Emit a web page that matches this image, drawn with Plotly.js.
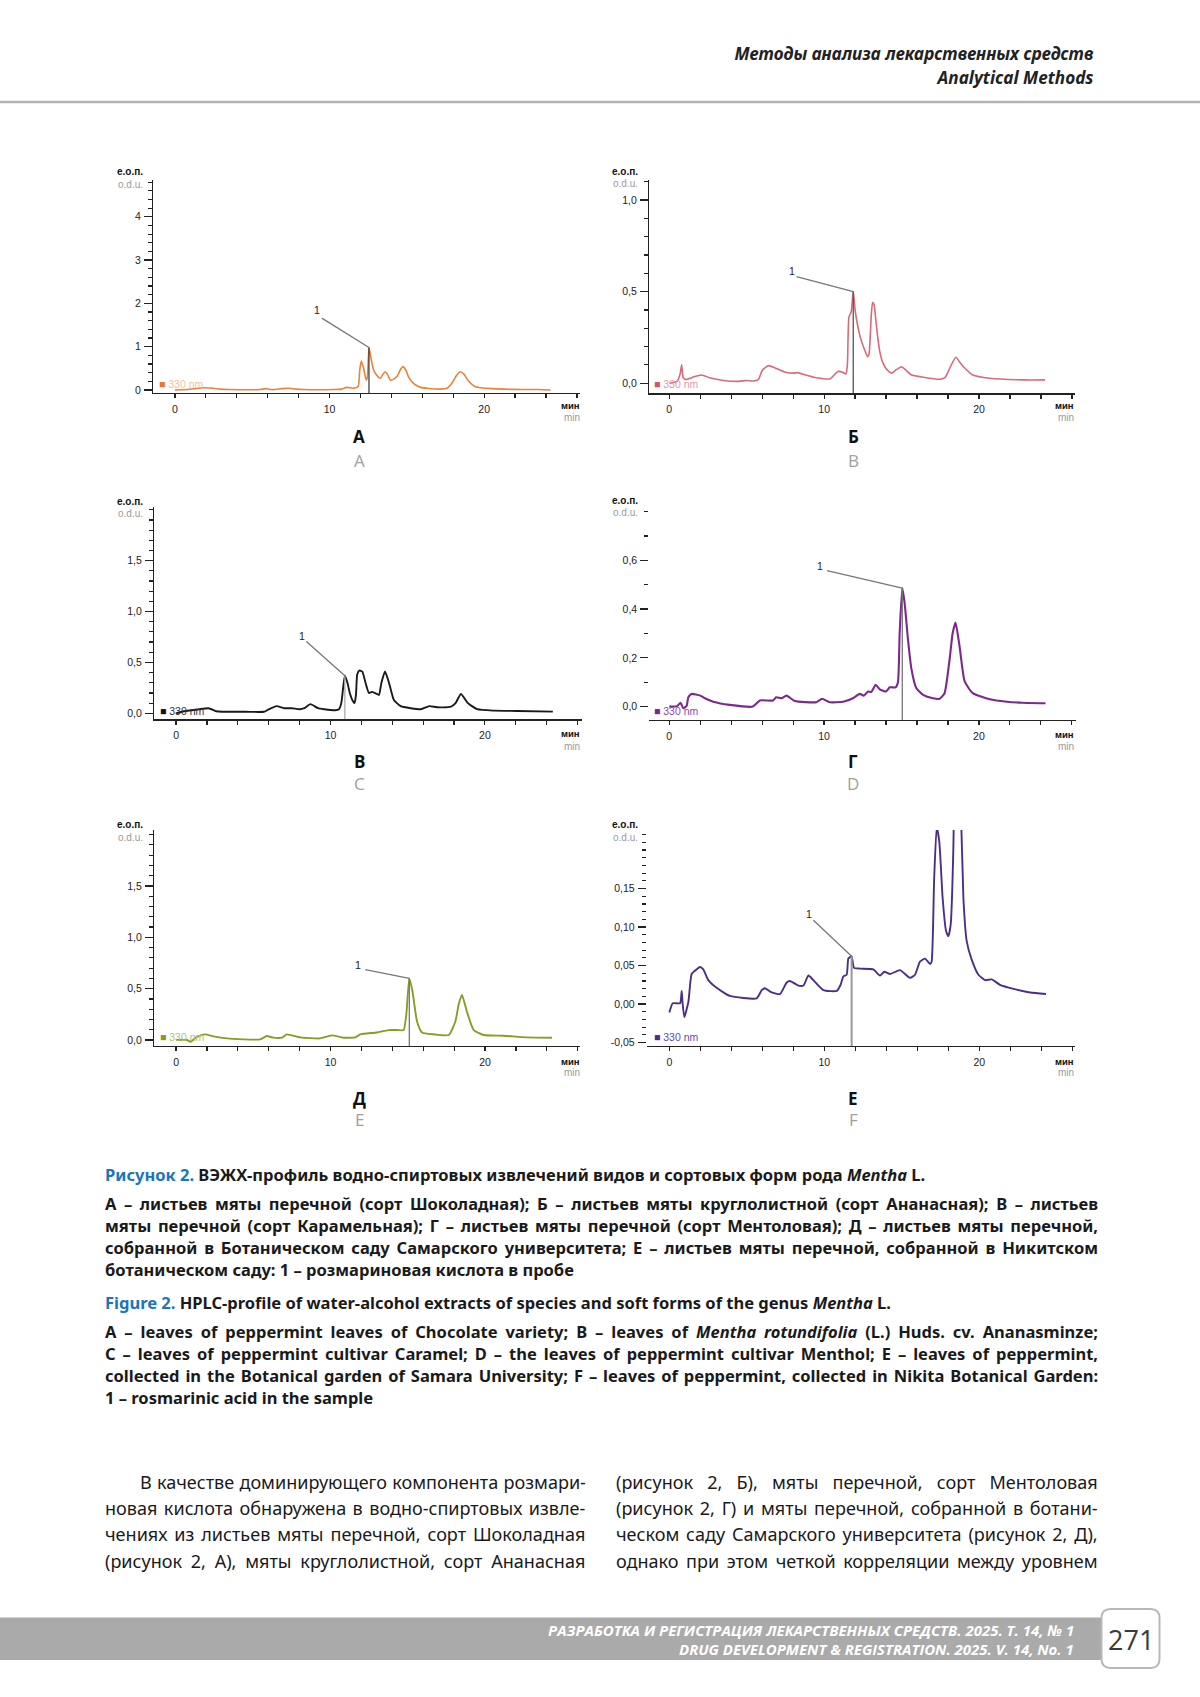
<!DOCTYPE html>
<html><head><meta charset="utf-8">
<script src="https://cdn.plot.ly/plotly-3.0.1.min.js"></script>
<style>html,body{margin:0;padding:0;background:#fff}#chart{width:1200px;height:1697px}</style>
</head><body><div id="chart"></div>
<script>
// ================= DATA =================
const xTickVals = [0, 10, 20];
const xTickText = ['0', '10', '20'];
const seriesName = '330 nm';
const panelLetterRu = ['А', 'Б', 'В', 'Г', 'Д', 'Е'];
const panelLetterEn = ['A', 'B', 'C', 'D', 'E', 'F'];

// A – Chocolate variety (orange)
const tA = [0, 0.8, 1.3, 1.8, 2.5, 2.9, 3.5, 5.5, 5.9, 6.2, 6.5, 6.9, 7.4, 7.8, 8.3, 10.3, 10.8, 11.1, 11.5, 11.85, 11.95, 12.05, 12.2, 12.37, 12.45, 12.55, 12.7, 12.85, 13.05, 13.28, 13.45, 13.6, 13.75, 13.93, 14.15, 14.36, 14.6, 14.75, 14.95, 15.1, 15.3, 15.55, 15.9, 16.3, 17.2, 17.6, 17.9, 18.2, 18.45, 18.7, 19.0, 19.4, 19.8, 20.5, 21.2, 22.5, 23.5, 24.3];
const yA = [0.0, 0.01, 0.03, 0.05, 0.04, 0.02, 0.01, 0.01, 0.03, 0.01, 0.01, 0.03, 0.04, 0.02, 0.01, 0.01, 0.02, 0.06, 0.04, 0.08, 0.45, 0.67, 0.5, 0.23, 0.3, 0.98, 0.7, 0.46, 0.34, 0.27, 0.36, 0.42, 0.36, 0.23, 0.25, 0.31, 0.48, 0.54, 0.45, 0.31, 0.2, 0.12, 0.06, 0.04, 0.02, 0.04, 0.15, 0.33, 0.42, 0.36, 0.2, 0.08, 0.05, 0.03, 0.02, 0.01, 0.01, 0.0];

// Б – Ananasnaya (pink-red)
const tB = [0, 0.5, 0.7, 0.8, 0.9, 1.1, 1.6, 2.1, 2.6, 3.5, 4.5, 5.0, 5.4, 5.75, 6.0, 6.4, 6.8, 7.5, 8.0, 8.3, 8.8, 9.5, 10.4, 10.7, 10.9, 11.2, 11.4, 11.5, 11.6, 11.75, 11.88, 12.0, 12.1, 12.25, 12.42, 12.6, 12.8, 12.9, 12.98, 13.05, 13.13, 13.22, 13.32, 13.45, 13.6, 13.8, 14.1, 14.36, 14.6, 15.0, 15.3, 15.65, 16.4, 17.5, 17.8, 18.1, 18.5, 18.8, 19.0, 19.6, 20.7, 22.9, 24.26];
const yB = [0.0, 0.01, 0.05, 0.1, 0.03, 0.02, 0.035, 0.045, 0.03, 0.015, 0.01, 0.015, 0.012, 0.02, 0.07, 0.096, 0.085, 0.06, 0.055, 0.058, 0.045, 0.03, 0.025, 0.05, 0.064, 0.06, 0.05, 0.1, 0.36, 0.39, 0.5, 0.4, 0.345, 0.28, 0.227, 0.185, 0.145, 0.16, 0.26, 0.38, 0.44, 0.43, 0.36, 0.26, 0.17, 0.11, 0.07, 0.055, 0.07, 0.09, 0.07, 0.045, 0.033, 0.022, 0.03, 0.08, 0.142, 0.11, 0.09, 0.045, 0.027, 0.018, 0.018];

// В – Karamelnaya (black)
const tC = [0, 0.5, 1.0, 1.5, 2.1, 2.6, 3.0, 4.5, 5.7, 5.9, 6.5, 7.0, 7.5, 8.0, 8.3, 8.7, 9.2, 9.6, 10.3, 10.55, 10.7, 10.93, 11.1, 11.25, 11.45, 11.56, 11.65, 11.73, 11.86, 12.06, 12.27, 12.49, 12.7, 13.0, 13.14, 13.3, 13.53, 13.79, 14.11, 14.55, 15.2, 15.85, 16.4, 16.9, 17.8, 18.1, 18.45, 18.9, 19.5, 20.6, 22.1, 24.4];
const yC = [0.0, 0.02, 0.03, 0.04, 0.05, 0.02, 0.015, 0.015, 0.015, 0.03, 0.07, 0.05, 0.05, 0.04, 0.05, 0.09, 0.05, 0.04, 0.03, 0.04, 0.1, 0.37, 0.3, 0.2, 0.12, 0.1, 0.18, 0.38, 0.42, 0.41, 0.3, 0.2, 0.21, 0.19, 0.18, 0.3, 0.41, 0.3, 0.13, 0.07, 0.05, 0.04, 0.07, 0.06, 0.065, 0.1, 0.19, 0.1, 0.04, 0.026, 0.023, 0.016];

// Г – Mentolovaya (purple)
const tD = [0, 0.5, 0.73, 0.9, 1.12, 1.23, 1.44, 2.0, 2.3, 2.84, 3.9, 5.4, 5.85, 6.7, 6.9, 7.25, 7.57, 8.1, 9.5, 9.87, 10.37, 11.23, 11.87, 12.3, 12.56, 12.84, 13.05, 13.33, 13.6, 14.0, 14.24, 14.62, 14.77, 14.88, 15.05, 15.2, 15.42, 15.63, 15.96, 16.39, 17.03, 17.46, 17.78, 18.1, 18.3, 18.49, 18.75, 19.08, 19.6, 20.7, 21.8, 22.8, 24.3];
const yD = [0.0, 0.002, 0.016, -0.007, 0.003, 0.038, 0.052, 0.045, 0.034, 0.02, 0.007, 0.0, 0.025, 0.025, 0.038, 0.034, 0.045, 0.023, 0.018, 0.032, 0.018, 0.02, 0.034, 0.052, 0.045, 0.062, 0.06, 0.089, 0.071, 0.062, 0.079, 0.079, 0.1, 0.3, 0.486, 0.425, 0.274, 0.158, 0.075, 0.048, 0.034, 0.032, 0.055, 0.19, 0.3, 0.345, 0.247, 0.103, 0.055, 0.03, 0.02, 0.016, 0.014];

// Д – Samara botanical garden (olive)
const tE = [0, 0.7, 0.95, 1.34, 1.88, 2.42, 3.28, 5.44, 5.87, 6.3, 6.85, 7.17, 8.03, 9.33, 10.09, 10.84, 11.6, 11.92, 13.0, 13.76, 14.4, 14.73, 14.9, 15.1, 15.31, 15.6, 15.92, 16.67, 17.65, 18.08, 18.3, 18.51, 18.83, 19.27, 19.91, 21.2, 22.7, 24.34];
const yE = [0.0, 0.0, -0.016, 0.03, 0.055, 0.036, 0.016, 0.006, 0.039, 0.023, 0.023, 0.055, 0.026, 0.016, 0.045, 0.023, 0.026, 0.055, 0.074, 0.097, 0.097, 0.097, 0.24, 0.6, 0.47, 0.18, 0.074, 0.055, 0.049, 0.18, 0.35, 0.44, 0.275, 0.097, 0.049, 0.042, 0.026, 0.023];

// Е – Nikita botanical garden (indigo)
const tF = [0, 0.22, 0.69, 0.8, 0.86, 0.97, 1.23, 1.44, 1.76, 1.98, 2.19, 2.52, 3.05, 3.91, 5.63, 5.96, 6.17, 6.6, 7.14, 7.57, 7.78, 8.32, 8.65, 8.97, 9.29, 9.94, 10.8, 11.05, 11.23, 11.44, 11.55, 11.76, 11.91, 12.3, 13.16, 13.59, 13.87, 14.24, 14.88, 15.53, 15.85, 16.17, 16.5, 16.82, 16.92, 17.08, 17.25, 17.42, 17.63, 17.85, 18.0, 18.15, 18.32, 18.5, 18.75, 18.97, 19.18, 19.5, 19.94, 20.37, 20.8, 21.33, 22.2, 23.27, 24.3];
const yF = [-0.011, 0.001, 0.001, 0.017, 0.0, -0.017, 0.003, 0.039, 0.045, 0.048, 0.045, 0.031, 0.021, 0.0105, 0.0074, 0.018, 0.0205, 0.015, 0.013, 0.028, 0.03, 0.024, 0.024, 0.037, 0.031, 0.018, 0.017, 0.025, 0.036, 0.038, 0.059, 0.062, 0.047, 0.046, 0.045, 0.037, 0.042, 0.039, 0.044, 0.034, 0.038, 0.055, 0.059, 0.052, 0.055, 0.16, 0.23, 0.21, 0.138, 0.095, 0.088, 0.103, 0.2, 0.45, 0.3, 0.138, 0.082, 0.058, 0.038, 0.031, 0.032, 0.025, 0.0197, 0.015, 0.013];

// y tick labels
const yTickValsA = [0, 1, 2, 3, 4];
const yTickTextA = ['0', '1', '2', '3', '4'];
const yTickValsB = [0, 0.5, 1.0];
const yTickTextB = ['0,0', '0,5', '1,0'];
const yTickValsC = [0, 0.5, 1.0, 1.5, 2.0];
const yTickTextC = ['0,0', '0,5', '1,0', '1,5', ''];
const yTickValsD = [0, 0.2, 0.4, 0.6, 0.8];
const yTickTextD = ['0,0', '0,2', '0,4', '0,6', ''];
const yTickValsE = [0, 0.5, 1.0, 1.5, 2.0];
const yTickTextE = ['0,0', '0,5', '1,0', '1,5', ''];
const yTickValsF = [-0.05, 0, 0.05, 0.10, 0.15, 0.20];
const yTickTextF = ['-0,05', '0,00', '0,05', '0,10', '0,15', ''];

// peak "1" (rosmarinic acid): retention time and label position
const peakTimes = [12.55, 11.88, 10.93, 15.05, 15.1, 11.76];
const peakLabelT = [9.18, 7.9, 8.16, 9.76, 11.8, 9.01];
const peakLabelY = [1.85, 0.61, 0.76, 0.575, 0.735, 0.1166];
const leaderT = [9.5, 8.22, 8.44, 10.19, 12.25, 9.29];
const leaderY = [1.66, 0.582, 0.705, 0.558, 0.686, 0.1087];

// ================= LAYOUT CONSTANTS =================
const W = 1200, H = 1697;
const series = [[tA, yA], [tB, yB], [tC, yC], [tD, yD], [tE, yE], [tF, yF]];
const yTicks = [[yTickValsA, yTickTextA], [yTickValsB, yTickTextB], [yTickValsC, yTickTextC], [yTickValsD, yTickTextD], [yTickValsE, yTickTextE], [yTickValsF, yTickTextF]];
const P = [
  {l:153.3, r:580, t:180, b:393, xr:[-1.40, 26.2], yr:[-0.07, 4.85], ymin:0, ymax:4.8, ydt:0.2, showY:true,
   col:'#e8833a', lw:1.6, sq:'#e8742f', lt:'#f2c49b', vcol:'#333', vw:1.2,
   eo:[130,171.7], odu:[130,184], mn:[581.7,405,417], lg:[157,384], let:[359.3,436.7,460]},
  {l:649.3, r:1075, t:180, b:393.3, xr:[-1.29, 26.2], yr:[-0.055, 1.109], ymin:0, ymax:1.1, ydt:0.1, showY:true,
   col:'#d76b79', lw:1.6, sq:'#d9506a', lt:'#e49aa6', vcol:'#555', vw:1.3,
   eo:[625,171.7], odu:[625,183], mn:[1076,405,417], lg:[652,384], let:[853.3,436.7,460]},
  {l:154.3, r:581.7, t:506.7, b:719.3, xr:[-1.41, 26.27], yr:[-0.059, 2.03], ymin:0, ymax:2.0, ydt:0.1, showY:true,
   col:'#1a1a1a', lw:1.9, sq:'#111111', lt:'#333333', vcol:'#aaa', vw:1.3,
   eo:[130,501.7], odu:[130,513], mn:[581.7,733.3,746.7], lg:[158,711], let:[359.3,761.7,783.3]},
  {l:649.3, r:1076, t:503, b:720, xr:[-1.29, 26.27], yr:[-0.055, 0.835], ymin:0, ymax:0.8, ydt:0.1, showY:false,
   col:'#7b2a8c', lw:2.1, sq:'#7b2a8c', lt:'#8e4a9e', vcol:'#777', vw:1.3,
   eo:[625,500.7], odu:[625,512.7], mn:[1076,734.3,746.7], lg:[652,711], let:[853.3,761.7,783.3]},
  {l:154.3, r:580, t:830, b:1046, xr:[-1.41, 26.15], yr:[-0.058, 2.045], ymin:0, ymax:2.0, ydt:0.1, showY:true,
   col:'#8c9a26', lw:1.9, sq:'#8a9a20', lt:'#b8c070', vcol:'#777', vw:1.3,
   eo:[130,825], odu:[130,837.7], mn:[581.7,1061,1072.3], lg:[157.5,1037], let:[359.3,1098.3,1119]},
  {l:646.7, r:1075, t:830, b:1046, xr:[-1.46, 26.17], yr:[-0.0545, 0.226], ymin:-0.05, ymax:0.22, ydt:0.01, showY:false,
   col:'#4b2f86', lw:1.9, sq:'#4a2a8a', lt:'#6a4aa0', vcol:'#999', vw:2,
   eo:[625,825], odu:[625,837.3], mn:[1076,1061,1072], lg:[652,1037], let:[853.3,1098.3,1119]}
];

const tickFont = {family:'Liberation Sans, Arial, sans-serif', size:10.5, color:'#222'};
const smallFont = 'Liberation Sans, Arial, sans-serif';
const textFont = 'Noto Sans, Open Sans, sans-serif';

function steps(a, b, d){ const out=[]; const n=Math.round((b-a)/d); for(let i=0;i<=n;i++) out.push(+(a+i*d).toFixed(4)); return out; }
function pxX(x){ return x/W; }
function pxY(y){ return 1 - y/H; }

const data = [];
const layout = {
  width: W, height: H, margin:{l:0,r:0,t:0,b:0}, paper_bgcolor:'#fff', plot_bgcolor:'rgba(0,0,0,0)',
  showlegend:false, annotations:[], shapes:[]
};

P.forEach((p, i) => {
  const k = i === 0 ? '' : String(i+1);
  const [ts, ys] = series[i];
  data.push({type:'scatter', mode:'lines', x:ts, y:ys, xaxis:'x'+k, yaxis:'y'+k, name:seriesName,
    line:{color:p.col, width:p.lw, shape:'spline', smoothing:0.5}, hoverinfo:'skip'});
  layout['xaxis'+k] = {
    domain:[pxX(p.l), pxX(p.r)], range:p.xr, anchor:'y'+k, showline:true, linecolor:'#222', linewidth:1.3,
    ticks:'outside', ticklen:4, tickwidth:1.2, tickcolor:'#222', tickmode:'array', tickvals:xTickVals, ticktext:xTickText,
    tickfont:tickFont, ticklabelstandoff:2,
    minor:{tickmode:'array', tickvals:steps(0, 26, 2), ticks:'outside', ticklen:4, tickwidth:1.2, tickcolor:'#222', showgrid:false},
    showgrid:false, zeroline:false, fixedrange:true
  };
  layout['yaxis'+k] = {
    domain:[pxY(p.b), pxY(p.t)], range:p.yr, anchor:'x'+k, showline:p.showY, linecolor:'#222', linewidth:1.3,
    ticks:'outside', ticklen:8, tickwidth:1.2, tickcolor:'#222', tickmode:'array', tickvals:yTicks[i][0], ticktext:yTicks[i][1],
    tickfont:tickFont, ticklabelstandoff:1,
    minor:{tickmode:'array', tickvals:steps(p.ymin, p.ymax, p.ydt), ticks:'outside', ticklen:4, tickwidth:1.2, tickcolor:'#222', showgrid:false},
    showgrid:false, zeroline:false, fixedrange:true
  };
  // peak "1"
  let best = 0; ts.forEach((t, j) => { if (Math.abs(t - peakTimes[i]) < Math.abs(ts[best] - peakTimes[i])) best = j; });
  const pt = ts[best], pv = ys[best];
  layout.shapes.push({type:'line', xref:'x'+k, yref:'y'+k, x0:pt, x1:pt, y0:p.yr[0], y1:pv, line:{color:p.vcol, width:p.vw}});
  layout.shapes.push({type:'line', xref:'x'+k, yref:'y'+k, x0:leaderT[i], y0:leaderY[i], x1:pt, y1:pv, line:{color:'#777', width:1.3}});
  layout.annotations.push({xref:'x'+k, yref:'y'+k, x:peakLabelT[i], y:peakLabelY[i], text:'1', showarrow:false,
    font:{family:smallFont, size:10.5, color:'#222'}, xanchor:'center', yanchor:'middle'});
  // axis unit labels
  const A = (x, y, text, o) => layout.annotations.push(Object.assign({xref:'paper', yref:'paper', x:pxX(x), y:pxY(y), text:text, showarrow:false, xanchor:'center', yanchor:'middle'}, o));
  A(p.eo[0], p.eo[1], 'e.o.п.', {font:{family:smallFont, size:10, color:'#111', weight:700}});
  A(p.odu[0], p.odu[1], 'o.d.u.', {font:{family:smallFont, size:10, color:'#9a9a9a'}});
  A(p.mn[0], p.mn[1], 'мин', {xanchor:'right', font:{family:smallFont, size:9.5, color:'#111', weight:700}});
  A(p.mn[0], p.mn[2], 'min', {xanchor:'right', font:{family:smallFont, size:10, color:'#9a9a9a'}});
  A(p.lg[0], p.lg[1], '<span style="color:'+p.sq+'">■</span> '+seriesName, {xanchor:'left', align:'left', font:{family:smallFont, size:10.5, color:p.lt}});
  A(p.let[0], p.let[1], panelLetterRu[i], {font:{family:'Open Sans, Noto Sans, sans-serif', size:17, color:'#111', weight:700}});
  A(p.let[0], p.let[2], panelLetterEn[i], {font:{family:'Open Sans, Noto Sans, sans-serif', size:17, color:'#a0a0a0'}});
});

// ---------------- page text ----------------
// mode 'squeeze': keep size, compress horizontally to the reference width; mode 'size': scale font size
const pageItems = [];
function T(x, y, text, o){ pageItems.push(Object.assign({x, y, text, mode:'squeeze'}, o)); }
// header
T(1096, 54, 'Методы анализа лекарственных средств', {anchor:'right', size:17, weight:700, style:'italic', color:'#222', group:'hdr', target:359});
T(1096, 77, 'Analytical Methods', {anchor:'right', size:17, weight:700, style:'italic', color:'#222', group:'hdr', target:154});
// caption RU
const blue = '#1b75bb';
const capSize = 16.5;
T(103, 1174, '<span style="color:'+blue+'">Рисунок 2.</span> ВЭЖХ-профиль водно-спиртовых извлечений видов и сортовых форм рода <i>Mentha</i> L.', {size:capSize, weight:700, group:'capRU', target:830});
T(103, 1203.5, 'А – листьев мяты перечной (сорт Шоколадная); Б – листьев мяты круглолистной (сорт Ананасная); В – листьев', {size:capSize, weight:700, group:'capRU', target:993, justify:true});
T(103, 1225.5, 'мяты перечной (сорт Карамельная); Г – листьев мяты перечной (сорт Ментоловая); Д – листьев мяты перечной,', {size:capSize, weight:700, group:'capRU', target:993, justify:true});
T(103, 1247.5, 'собранной в Ботаническом саду Самарского университета; Е – листьев мяты перечной, собранной в Никитском', {size:capSize, weight:700, group:'capRU', target:993, justify:true});
T(103, 1269.5, 'ботаническом саду: 1 – розмариновая кислота в пробе', {size:capSize, weight:700, group:'capRU', target:469});
// caption EN
T(103, 1302, '<span style="color:'+blue+'">Figure 2.</span> HPLC-profile of water-alcohol extracts of species and soft forms of the genus <i>Mentha</i> L.', {size:capSize, weight:700, group:'capEN', target:783});
T(103, 1331, 'A – leaves of peppermint leaves of Chocolate variety; B – leaves of <i>Mentha rotundifolia</i> (L.) Huds. cv. Ananasminze;', {size:capSize, weight:700, group:'capEN', target:993, justify:true});
T(103, 1353, 'C – leaves of peppermint cultivar Caramel; D – the leaves of peppermint cultivar Menthol; E – leaves of peppermint,', {size:capSize, weight:700, group:'capEN', target:993, justify:true});
T(103, 1375.5, 'collected in the Botanical garden of Samara University; F – leaves of peppermint, collected in Nikita Botanical Garden:', {size:capSize, weight:700, group:'capEN', target:993, justify:true});
T(103, 1397, '1 – rosmarinic acid in the sample', {size:capSize, weight:700, group:'capEN', target:265});
// body text
const bodySize = 19;
T(137.5, 1481.5, 'В качестве доминирующего компонента розмари-', {size:bodySize, group:'body', target:446.5, justify:true});
T(103, 1507.5, 'новая кислота обнаружена в водно-спиртовых извле-', {size:bodySize, group:'body', target:481, justify:true});
T(103, 1534, 'чениях из листьев мяты перечной, сорт Шоколадная', {size:bodySize, group:'body', target:481, justify:true});
T(103, 1560.5, '(рисунок 2, А), мяты круглолистной, сорт Ананасная', {size:bodySize, group:'body', target:481, justify:true});
T(613.7, 1481.5, '(рисунок 2, Б), мяты перечной, сорт Ментоловая', {size:bodySize, group:'body', target:482.3, justify:true});
T(613.7, 1507.5, '(рисунок 2, Г) и мяты перечной, собранной в ботани-', {size:bodySize, group:'body', target:482.3, justify:true});
T(613.7, 1534, 'ческом саду Самарского университета (рисунок 2, Д),', {size:bodySize, group:'body', target:482.3, justify:true});
T(613.7, 1560.5, 'однако при этом четкой корреляции между уровнем', {size:bodySize, group:'body', target:482.3, justify:true});
// footer
T(1076, 1629.5, 'РАЗРАБОТКА И РЕГИСТРАЦИЯ ЛЕКАРСТВЕННЫХ СРЕДСТВ. 2025. Т. 14, № 1', {anchor:'right', size:13, weight:700, style:'italic', color:'#fff', group:'foot', target:520, mode:'size', family:'Open Sans, Noto Sans, sans-serif'});
T(1076, 1648.5, 'DRUG DEVELOPMENT & REGISTRATION. 2025. V. 14, No. 1', {anchor:'right', size:13, weight:700, style:'italic', color:'#fff', group:'foot', target:395, mode:'size', family:'Open Sans, Noto Sans, sans-serif'});

const pageStart = layout.annotations.length;
pageItems.forEach(it => {
  layout.annotations.push({xref:'paper', yref:'paper', x:pxX(it.x), y:pxY(it.y), text:it.text, showarrow:false,
    xanchor: it.anchor || 'left', yanchor:'middle', align: it.anchor || 'left',
    font:{family: it.family || textFont, size: it.size, color: it.color || '#1a1a1a', weight: it.weight || 400, style: it.style || 'normal'}});
});
// page number
layout.annotations.push({xref:'paper', yref:'paper', x:pxX(1130.5), y:pxY(1639), text:'271', showarrow:false, xanchor:'center', yanchor:'middle',
  font:{family:'Open Sans, Noto Sans, sans-serif', size:27, color:'#3a3a3a'}});

// page shapes
layout.shapes.push({type:'line', xref:'paper', yref:'paper', x0:0, x1:1, y0:pxY(102), y1:pxY(102), line:{color:'#b4b4b4', width:2.5}});
layout.shapes.push({type:'rect', xref:'paper', yref:'paper', x0:0, x1:pxX(1102), y0:pxY(1660), y1:pxY(1617.5), fillcolor:'#aaaaaa', line:{width:0}});
(function(){
  const x0=1101.5, x1=1159.5, y0=1609, y1=1668, r=9;
  const X = v => pxX(v).toFixed(5), Y = v => pxY(v).toFixed(5);
  const path = 'M'+X(x0+r)+','+Y(y0)+' L'+X(x1-r)+','+Y(y0)+' Q'+X(x1)+','+Y(y0)+' '+X(x1)+','+Y(y0+r)+
    ' L'+X(x1)+','+Y(y1-r)+' Q'+X(x1)+','+Y(y1)+' '+X(x1-r)+','+Y(y1)+' L'+X(x0+r)+','+Y(y1)+' Q'+X(x0)+','+Y(y1)+' '+X(x0)+','+Y(y1-r)+
    ' L'+X(x0)+','+Y(y0+r)+' Q'+X(x0)+','+Y(y0)+' '+X(x0+r)+','+Y(y0)+' Z';
  layout.shapes.push({type:'path', xref:'paper', yref:'paper', path:path, fillcolor:'#ffffff', line:{color:'#b8b8b8', width:2}});
})();

const gd = document.getElementById('chart');
function annText(i){ return gd.querySelector('g.annotation[data-index="'+i+'"] text.annotation-text'); }
function groupsOf(mode){
  const g = {};
  pageItems.forEach((it, j) => { if (it.mode === mode) (g[it.group] = g[it.group] || []).push(j); });
  return g;
}
function median(a){ const s = a.slice().sort((x,y)=>x-y); return s[Math.floor(s.length/2)]; }
function widthOf(j){ const el = annText(pageStart + j); return el ? el.getComputedTextLength() : 0; }

Plotly.newPlot(gd, data, layout, {displayModeBar:false, staticPlot:true}).then(() => {
  // 'size' groups: scale font size to the reference width
  const upd = {};
  const gs = groupsOf('size');
  Object.keys(gs).forEach(g => {
    const f = median(gs[g].map(j => { const w = widthOf(j); return w > 0 ? pageItems[j].target / w : 1; }));
    gs[g].forEach(j => { upd['annotations['+(pageStart+j)+'].font.size'] = +(pageItems[j].size * f).toFixed(2); });
  });
  return Plotly.relayout(gd, upd);
}).then(() => {
  // 'squeeze' groups: condensed look via horizontal scale, justified lines via word spacing
  const gs = groupsOf('squeeze');
  Object.keys(gs).forEach(g => {
    const js = gs[g];
    const just = js.filter(j => pageItems[j].justify);
    const ratio = j => { const w = widthOf(j); return w > 0 ? pageItems[j].target / w : 1; };
    let sx;
    if (just.length) sx = Math.min(1, Math.min.apply(null, just.map(ratio)) * 0.995);
    else sx = median(js.map(ratio));
    js.forEach(j => {
      const it = pageItems[j];
      const el = annText(pageStart + j); if (!el) return;
      if (it.justify) {
        const w = el.getComputedTextLength();
        const n = (el.textContent.match(/ /g) || []).length;
        if (n > 0) el.style.wordSpacing = ((it.target / sx - w) / n).toFixed(2) + 'px';
      }
      const bb = el.getBBox();
      const ax = (it.anchor === 'right') ? bb.x + bb.width : bb.x;
      const prev = el.getAttribute('transform') || '';
      el.setAttribute('transform', (prev + ' translate(' + ax + ',0) scale(' + sx.toFixed(4) + ',1) translate(' + (-ax) + ',0)').trim());
    });
  });
});
</script></body></html>
